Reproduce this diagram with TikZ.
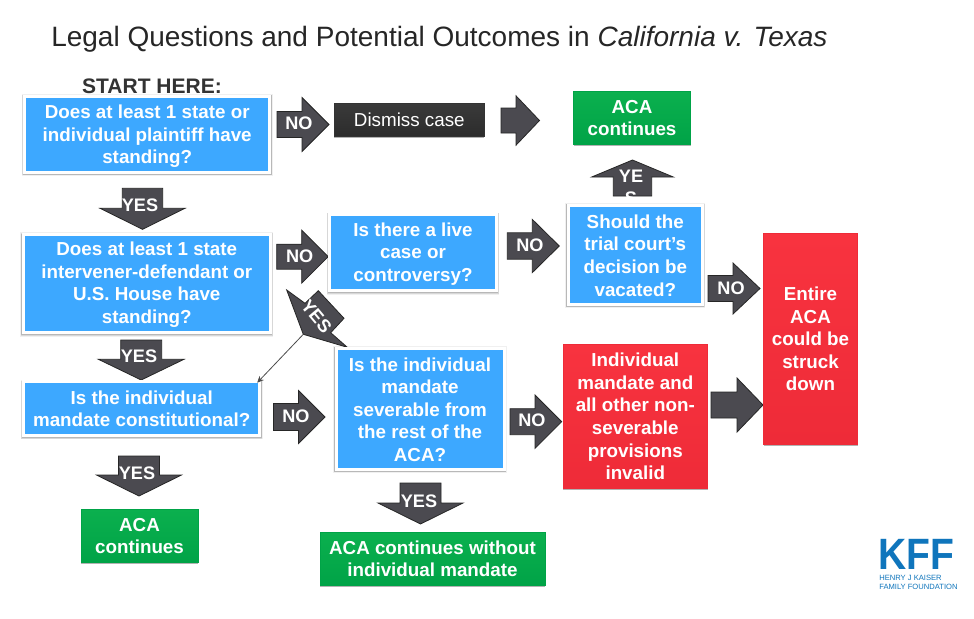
\documentclass[tikz,border=0pt]{standalone}
\usepackage{fontspec}
\usepackage{graphicx}
\setmainfont{Liberation Sans}
\usetikzlibrary{shadows,arrows.meta}
\definecolor{qblue}{HTML}{3DA8FF}
\definecolor{okgreen}{HTML}{0BB04E}
\definecolor{okgreendk}{HTML}{00A347}
\definecolor{badred}{HTML}{F8333F}
\definecolor{badreddk}{HTML}{EE2B38}
\definecolor{arrowgray}{HTML}{4B4A50}
\definecolor{kffblue}{HTML}{0F75BC}
\definecolor{titleink}{HTML}{262626}
\definecolor{dismisstop}{HTML}{3A3A3A}
\definecolor{dismissbot}{HTML}{2C2C2C}
\newcommand{\bodysize}{\fontsize{14.1pt}{16.9pt}\selectfont\bfseries}
\newcommand{\lift}[1]{\rule{0pt}{#1pt}}
\tikzset{
  wh/.style 2 args={minimum width=#1*0.75pt,minimum height=#2*0.75pt},
  softshadow/.style={
    drop shadow={shadow xshift=0pt,shadow yshift=-.9pt,fill=black,draw=black,line width=4.2pt,opacity=.06},
    drop shadow={shadow xshift=0pt,shadow yshift=-.8pt,fill=black,draw=black,line width=3.4pt,opacity=.10},
    drop shadow={shadow xshift=0pt,shadow yshift=-.9pt,fill=black,draw=black,line width=2.6pt,opacity=.14}},
  thinshadow/.style={drop shadow={shadow xshift=0pt,shadow yshift=-1.2pt,fill=black,opacity=.3}},
  flowbox/.style={rectangle,inner sep=0pt,align=center,text=white,font=\bodysize},
  qbox/.style={flowbox,softshadow,fill=qblue,draw=white,line width=2.25pt},
  okbox/.style={flowbox,thinshadow,top color=okgreen,bottom color=okgreendk,draw=okgreendk,line width=.4pt},
  badbox/.style={flowbox,thinshadow,top color=badred,bottom color=badreddk,draw=badreddk,line width=.4pt},
  darkbox/.style={flowbox,thinshadow,top color=dismisstop,bottom color=dismissbot,draw=black!80,line width=.4pt,font=\fontsize{14.1pt}{16.9pt}\selectfont},
  blockshape/.style={fill=arrowgray,draw=black!85,line width=.6pt,line join=miter},
  arrowtext/.style={inner sep=0pt,text=white,font=\fontsize{13.6pt}{16.5pt}\selectfont\bfseries,align=center},
}
% name, tail centre x, y, rotation, length, head length, head half width, shaft half width
\newcommand{\blockarrow}[8]{%
  \begin{scope}[shift={(#2,#3)},rotate=#4]
    \filldraw[blockshape] (0,-#8) -- ({#5-#6},-#8) -- ({#5-#6},-#7) -- (#5,0)
       -- ({#5-#6},#7) -- ({#5-#6},#8) -- (0,#8) -- cycle;
    \coordinate (#1) at (#5,0);
  \end{scope}}
\begin{document}
\begin{tikzpicture}[x=0.75pt,y=-0.75pt]
\useasboundingbox (0,0) rectangle (974,618);
\fill[white] (0,0) rectangle (974,618);

\node[anchor=west,inner sep=0pt,text=titleink,font=\fontsize{21pt}{25pt}\selectfont] (title) at (51,39.5)
  {Legal Questions and Potential Outcomes in \textit{California v. Texas}};
\node[inner sep=0pt,text=black!80,font=\fontsize{15.75pt}{18pt}\selectfont\bfseries] (start) at (152,86) {START HERE:};

% block arrows
\blockarrow{aNoA}{277}{124.5}{0}{52}{27}{27}{13}
\blockarrow{aGo}{501}{120.5}{0}{38.5}{23.5}{24.7}{12.5}
\blockarrow{aYesA}{142.5}{188.3}{-90}{41}{21}{42.5}{20.2}
\blockarrow{aNoB}{276.7}{256.7}{0}{51.5}{26.5}{26.5}{12.5}
\blockarrow{aYesB}{141.2}{340}{-90}{40}{20.7}{42.8}{20.5}
\blockarrow{aYesC}{139}{456}{-90}{40}{21}{42.5}{20.5}
\blockarrow{aYesD}{420.5}{483}{-90}{41}{21}{42.5}{20.5}
\blockarrow{aNoC}{273.5}{417}{0}{51.5}{26.5}{26.5}{13.5}
\blockarrow{aNoD}{510}{421.7}{0}{51.7}{26.7}{26.7}{13}
\blockarrow{aNoE}{507.3}{246}{0}{52}{27}{26.6}{13.2}
\blockarrow{aNoF}{708}{288.5}{0}{52}{27}{25.5}{13}
\blockarrow{aBig}{711}{405}{0}{52}{26}{27}{13}
\blockarrow{aYesUp}{632.5}{196}{90}{36}{17}{40.8}{19.2}

% rotated YES arrow
\filldraw[blockshape] (318.3,290.7) -- (344,318.3) -- (330.7,332.7) -- (347.3,347.3)
   -- (303.3,334.3) -- (286.7,290) -- (305,303.3) -- cycle;
\coordinate (aSlantTip) at (303.3,334.3);

\node[arrowtext] (lNoA) at (299,123) {NO};
\node[arrowtext] (lYesA) at (140,205) {YES};
\node[arrowtext] (lNoB) at (299.7,256.7) {NO};
\node[arrowtext] (lYesB) at (139,356.7) {YES};
\node[arrowtext] (lYesC) at (137,473) {YES};
\node[arrowtext] (lYesD) at (419,501) {YES};
\node[arrowtext] (lNoC) at (296,416.7) {NO};
\node[arrowtext] (lNoD) at (532,420) {NO};
\node[arrowtext] (lNoE) at (530,245) {NO};
\node[arrowtext] (lNoF) at (731,288) {NO};
\node[arrowtext,rotate=-50] (lSlant) at (316.5,316.5) {YES};
\node[arrowtext] (lYesUp) at (631,187) {YE\\S};

% question boxes
\node[qbox,wh={245.5}{76}] (q1) at (147.2,134)
  {\lift{13.5}Does at least 1 state or\\individual plaintiff have\\standing?};
\node[qbox,wh={247.5}{98.5}] (q2) at (146.8,283.3)
  {\lift{12.4}Does at least 1 state\\intervener-defendant or\\U.S. House have\\standing?};
\node[qbox,wh={236.5}{53.5}] (q3) at (141.7,408.7)
  {Is the individual\\mandate constitutional?};
\node[qbox,wh={167}{76}] (q4) at (413,252.5)
  {\lift{12.4}Is there a live\\case or\\controversy?};
\node[qbox,wh={134.5}{99}] (q5) at (635.3,254.5)
  {\lift{11.7}Should the\\trial court's\\decision be\\vacated?};
\node[qbox,wh={168}{121}] (q6) at (420,408.5)
  {\lift{11.7}Is the individual\\mandate\\severable from\\the rest of the\\ACA?};

% outcomes
\node[darkbox,wh={150}{32.5}] (dismiss) at (409.3,119.7) {Dismiss case};
\node[okbox,wh={117}{53}] (acaA) at (632,118) {ACA\\continues};
\node[okbox,wh={117}{53}] (acaB) at (139.5,536) {ACA\\continues};
\node[okbox,wh={225}{53}] (acaC) at (432.5,559) {ACA continues without\\individual mandate};
\node[badbox,wh={144.5}{144}] (redA) at (635.3,416.5) {Individual\\mandate and\\all other non-\\severable\\provisions\\invalid};
\node[badbox,wh={94}{211}] (redB) at (810.5,339) {Entire\\ACA\\could be\\struck\\down};

% thin connector
\draw[line width=.6pt,draw=black!70,-{Stealth[length=5pt,width=4.5pt]}] (aSlantTip) -- ([xshift=-3.2pt,yshift=-1.7pt]q3.north east);

% logo
\node[anchor=north west,inner sep=0pt,text=kffblue,font=\fontsize{32.9pt}{34pt}\selectfont\bfseries] (kff) at (878,539.3) {\scalebox{.89}[1]{KFF}};
\node[anchor=north west,inner sep=0pt,text=kffblue,align=left,font=\fontsize{5.7pt}{6.75pt}\selectfont] (kffname) at (879,574.5) {HENRY J KAISER\\FAMILY FOUNDATION};
\end{tikzpicture}
\end{document}
